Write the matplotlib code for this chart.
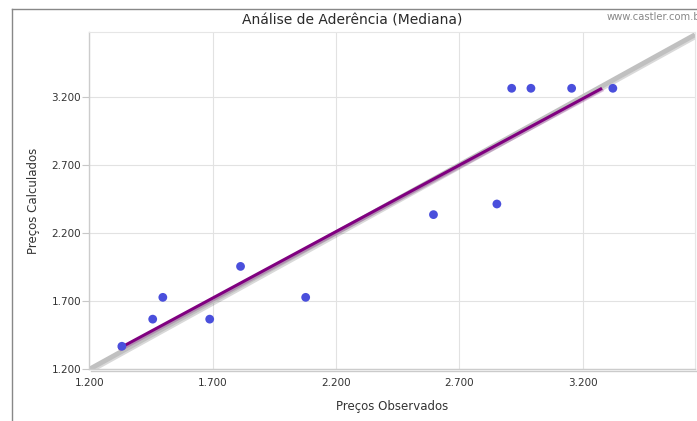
import matplotlib
matplotlib.use("Agg")
import matplotlib.pyplot as plt
import matplotlib.patheffects as pe
from matplotlib.lines import Line2D
from matplotlib.ticker import FuncFormatter

# ── Data ──────────────────────────────────────────────────────────────────────
obs_x = [1332, 1457, 1498, 1688, 1813, 2077, 2595, 2852, 2912, 2990, 3155, 3322]
calc_y = [1369, 1568, 1728, 1568, 1955, 1728, 2335, 2413, 3262, 3262, 3262, 3262]

fit_x = [1318, 3278]
fit_y = [1350, 3262]

ideal = [1200, 3655]

ticks = [1200, 1700, 2200, 2700, 3200]

# ── Colors ────────────────────────────────────────────────────────────────────
C = {
    "dot":    "#4a4fdc",
    "fit":    "#800080",
    "ideal":  "#c0c0c0",
    "grid":   "#e2e2e2",
    "text":   "#333333",
    "frame":  "#888888",
}

W, H, DPI = 697, 421, 100
fig = plt.figure(figsize=(W / DPI, H / DPI), dpi=DPI, facecolor="white")

L, R, T, B = 89.3, 695, 32, 369.3
ax = fig.add_axes([L / W, 1 - B / H, (R - L) / W, (B - T) / H])
ax.set_xlim(1200, 3655)
ax.set_ylim(1200, 3675)

fmt = FuncFormatter(lambda v, p: f"{v:,.0f}".replace(",", "."))
ax.set_xticks(ticks)
ax.set_yticks(ticks)
ax.xaxis.set_major_formatter(fmt)
ax.yaxis.set_major_formatter(fmt)
ax.tick_params(axis="x", length=0, pad=6, labelsize=7.5, colors=C["text"])
ax.tick_params(axis="y", length=5, width=0.8, color="#c8c8c8", pad=1,
               labelsize=7.5, labelcolor=C["text"])
ax.grid(True, color=C["grid"], lw=0.8)
ax.set_axisbelow(True)

for s in ["top", "right"]:
    ax.spines[s].set_color("#e6e6e6")
    ax.spines[s].set_linewidth(0.8)
for s in ["left", "bottom"]:
    ax.spines[s].set_color("#cccccc")
    ax.spines[s].set_linewidth(1.0)
ax.spines["bottom"].set_path_effects(
    [pe.SimpleLineShadow(offset=(1, -1.5), shadow_color="#999999", alpha=0.5), pe.Normal()])
ax.spines["right"].set_path_effects(
    [pe.SimpleLineShadow(offset=(1.5, -1), shadow_color="#999999", alpha=0.5), pe.Normal()])

shadow = [pe.SimpleLineShadow(offset=(1, -1), shadow_color="#000000", alpha=0.15), pe.Normal()]
ax.plot(ideal, ideal, color=C["ideal"], lw=3.5, solid_capstyle="butt",
        path_effects=shadow, zorder=2)
ax.plot(fit_x, fit_y, color=C["fit"], lw=2.2, solid_capstyle="butt",
        path_effects=[pe.SimpleLineShadow(offset=(1, -1), shadow_color="#800080", alpha=0.25),
                      pe.Normal()], zorder=3)
ax.scatter(obs_x, calc_y, s=40, color=C["dot"], edgecolors="none", zorder=4, clip_on=False)

ax.set_xlabel("Preços Observados", fontsize=8.5, color=C["text"], labelpad=9)
ax.set_ylabel("Preços Calculados", fontsize=8.5, color=C["text"], labelpad=8)

fig.text(352 / W, 1 - 20 / H, "Análise de Aderência (Mediana)", ha="center", va="center",
         fontsize=10, color="#2a2a2a")
fig.text(607 / W, 1 - 17 / H, "www.castler.com.br", ha="left", va="center",
         fontsize=7.2, color="#888888")

# outer frame
fig.add_artist(Line2D([11.7 / W, 11.7 / W], [0, 1 - 9.3 / H], color=C["frame"], lw=1))
fig.add_artist(Line2D([11.7 / W, 1], [1 - 9.3 / H, 1 - 9.3 / H], color=C["frame"], lw=1))

fig.savefig("out.png", dpi=DPI, facecolor="white")
